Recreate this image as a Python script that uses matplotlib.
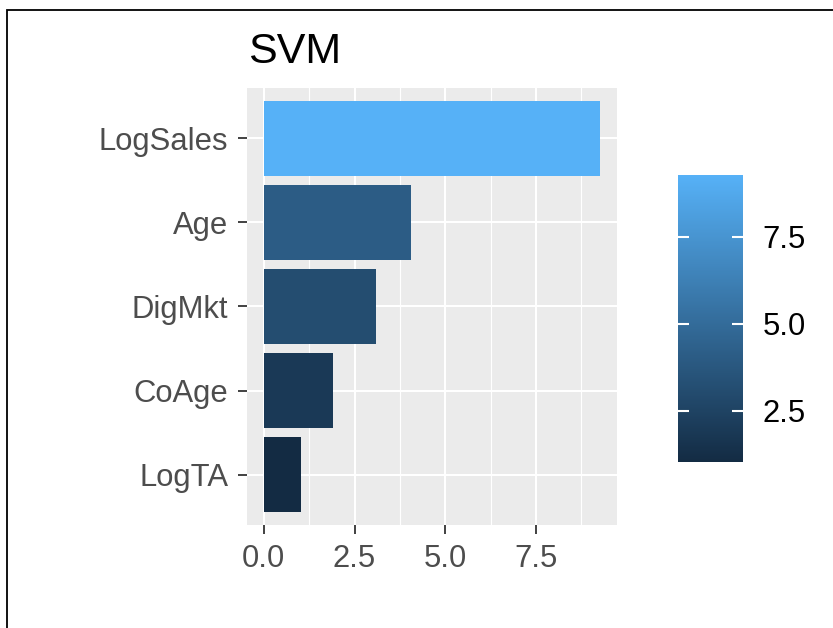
import numpy as np
import matplotlib
matplotlib.use("Agg")
import matplotlib.pyplot as plt
from matplotlib.colors import LinearSegmentedColormap, Normalize
from matplotlib.cm import ScalarMappable
from matplotlib.patches import Rectangle

plt.rcParams['font.family'] = ['Liberation Sans', 'DejaVu Sans']

# variable importance for the SVM model
features = ['LogTA', 'CoAge', 'DigMkt', 'Age', 'LogSales']
importance = [1.02, 1.92, 3.09, 4.06, 9.27]
xticks = [0.0, 2.5, 5.0, 7.5]
minor_xticks = [1.25, 3.75, 6.25, 8.75]
cbar_ticks = [2.5, 5.0, 7.5]

cmap = LinearSegmentedColormap.from_list('gg', ['#132B43', '#56B1F7'])
norm = Normalize(vmin=min(importance), vmax=max(importance))

fig = plt.figure(figsize=(8.33, 6.28), dpi=100)
W, H = 833, 628

ax = fig.add_axes([247 / W, 1 - 525 / H, 370 / W, 437 / H])
ax.set_facecolor('#EBEBEB')
ypos = np.arange(len(features))
ax.barh(ypos, importance, height=0.9, color=cmap(norm(np.array(importance))), zorder=3)

xmax = max(importance)
ax.set_xlim(-0.05 * xmax, 1.05 * xmax)
ax.set_ylim(-0.6, len(features) - 0.4)
ax.set_yticks(ypos)
ax.set_yticklabels(features)
ax.set_xticks(xticks)
ax.set_xticklabels(['%.1f' % t for t in xticks])
ax.set_xticks(minor_xticks, minor=True)

for s in ax.spines.values():
    s.set_visible(False)
ax.grid(True, which='major', color='white', linewidth=1.5, zorder=1)
ax.grid(True, which='minor', axis='x', color='white', linewidth=0.8, zorder=1)
ax.set_axisbelow(True)
ax.tick_params(axis='both', which='major', labelsize=22.3, labelcolor='#4D4D4D',
               color='#333333', length=6.5, width=1.3)
ax.tick_params(axis='x', pad=7)
ax.tick_params(axis='y', pad=7)
ax.tick_params(which='minor', length=0)

fig.text(248 / W, 1 - 63 / H, 'SVM', fontsize=31, color='black',
         ha='left', va='baseline')

# colour legend
cax = fig.add_axes([678 / W, 1 - 462 / H, 65 / W, 287 / H])
sm = ScalarMappable(norm=norm, cmap=cmap)
cb = fig.colorbar(sm, cax=cax, ticks=cbar_ticks)
cb.outline.set_visible(False)
cax.tick_params(direction='in', left=True, right=True, color='white',
                length=8, width=1.5, labelsize=22.3, labelcolor='black', pad=14)
cax.set_yticklabels(['%.1f' % t for t in cbar_ticks])

# frame around the figure
fig.patches.append(Rectangle((6.5 / W, -0.1), 1.2, 1.1 - 9.8 / H,
                             transform=fig.transFigure, fill=False,
                             edgecolor='black', linewidth=1.3))

fig.savefig('out.png', dpi=100)
